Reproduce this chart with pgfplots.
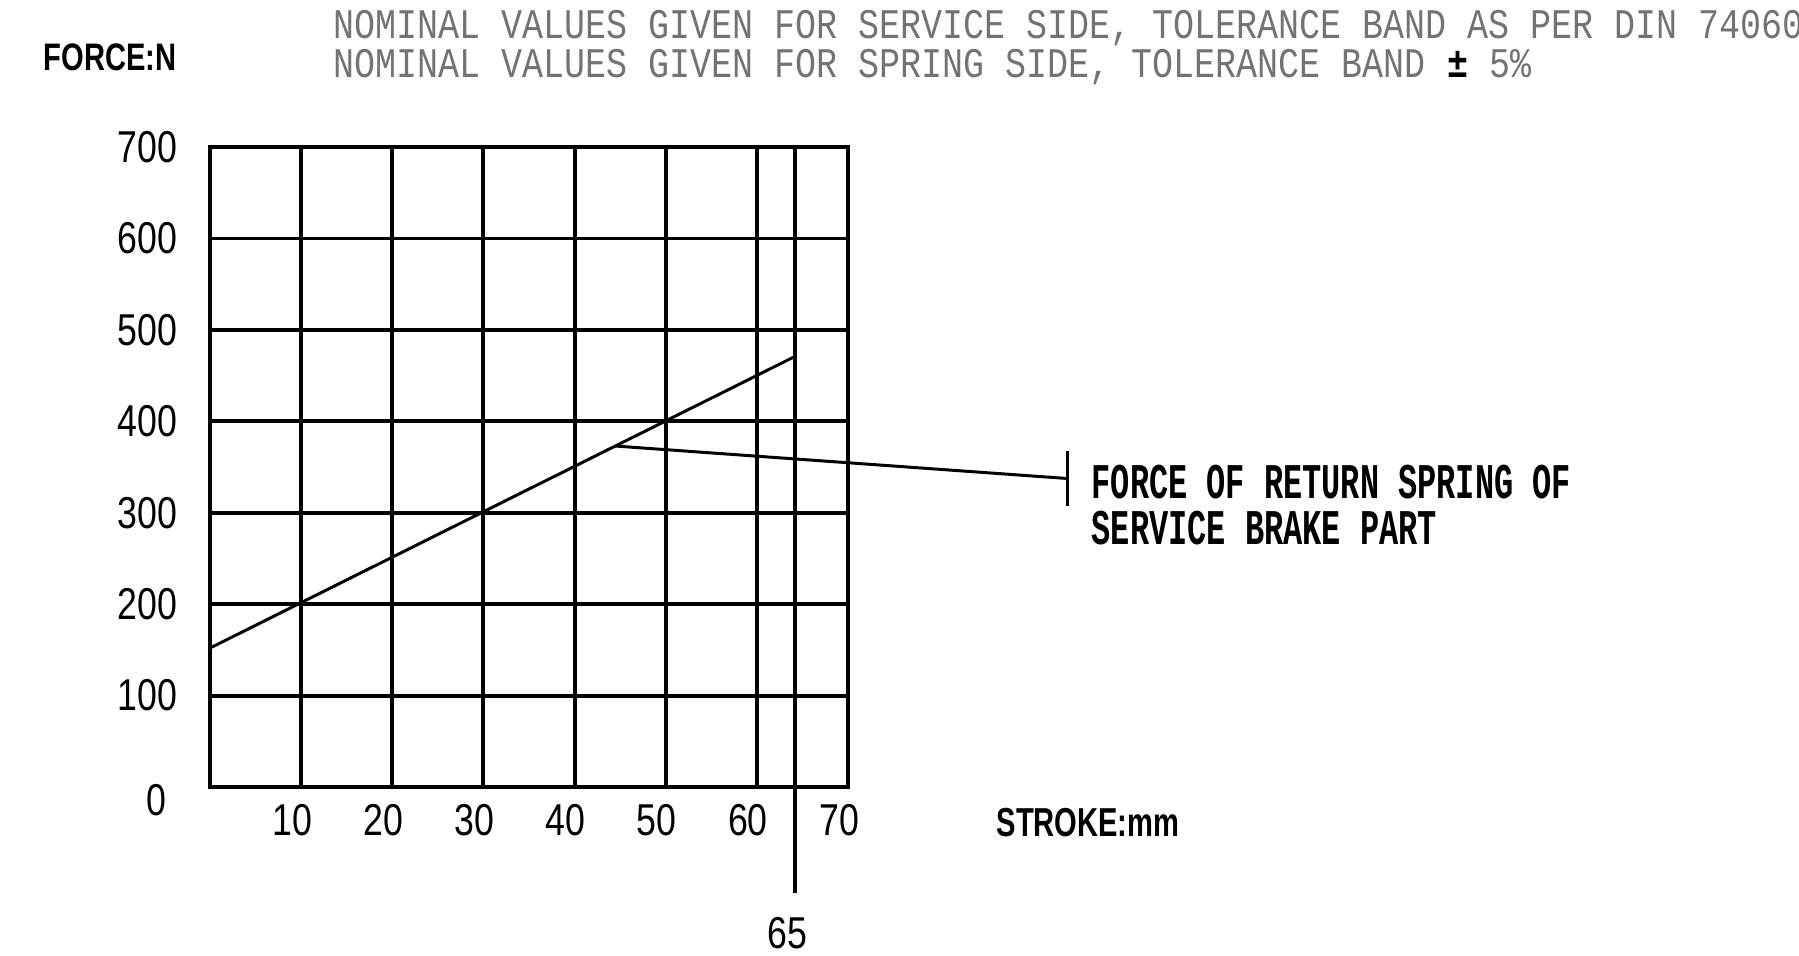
\documentclass[border=0pt]{standalone}
\usepackage{pgfplots}
\pgfplotsset{compat=1.18}
\usepackage{fontspec}
\setmainfont{Liberation Sans}
\newfontfamily\lblfont[FakeStretch=0.8]{Liberation Sans}
\newfontfamily\forcefont[FakeStretch=0.76]{Liberation Sans}
\newfontfamily\strokefont[FakeStretch=0.72]{Liberation Sans}
\newfontfamily\titlefont[FakeStretch=0.83]{Liberation Mono}
\newfontfamily\notefont[FakeStretch=0.64]{Liberation Mono}
\begin{document}
\begin{tikzpicture}[x=1mm,y=1mm]
\begin{axis}[
  at={(21mm,16.8mm)}, anchor=south west,
  scale only axis, width=63.8mm, height=64mm,
  xmin=0, xmax=70, ymin=0, ymax=700,
  xtick={10,20,...,70}, ytick={0,100,...,700},
  yticklabels={{\smash{\raisebox{-2.8mm}{0}}\kern1.1mm},100,200,300,400,500,600,700},
  grid=major,
  major grid style={black, line width=1.1pt},
  axis line style={black, line width=1.1pt},
  major tick length=0pt,
  clip=false,
  /pgf/number format/assume math mode=true,
  tick label style={font=\lblfont\fontsize{12.7}{14}\selectfont},
  yticklabel style={anchor=east, inner sep=0pt, xshift=-3.2mm},
  xticklabel style={anchor=north, inner sep=0pt, yshift=-1.7mm, xshift=-0.9mm},
]
\addplot[black, line width=0.85pt] coordinates {(0,152) (64,470)};
\addplot[black, line width=0.85pt] coordinates {(44.4,373) (94.1,337.4)};
\addplot[black, line width=0.85pt] coordinates {(94.1,367.5) (94.1,307.4)};
\addplot[black, line width=1.1pt] coordinates {(64.2,700) (64.2,-116)};
\end{axis}
\node[inner sep=0pt, font=\forcefont\bfseries\fontsize{10.9}{12}\selectfont] at (11.0,89.75) {FORCE:N};
\node[anchor=base west, inner sep=0pt, font=\titlefont\fontsize{12}{14}\selectfont, text=black!55] at (33.3,91.6) {NOMINAL VALUES GIVEN FOR SERVICE SIDE, TOLERANCE BAND AS PER DIN 74060};
\node[anchor=base west, inner sep=0pt, font=\titlefont\fontsize{12}{14}\selectfont, text=black!55] at (33.3,87.7) {NOMINAL VALUES GIVEN FOR SPRING SIDE, TOLERANCE BAND {\color{black}\bfseries ±} 5\%};
\node[anchor=base west, inner sep=0pt, font=\strokefont\bfseries\fontsize{11.5}{13}\selectfont] at (99.6,11.9) {STROKE:mm};
\node[anchor=base, inner sep=0pt, font=\lblfont\fontsize{12.7}{14}\selectfont] at (78.7,0.7) {65};
\node[anchor=base west, inner sep=0pt, font=\notefont\bfseries\fontsize{14.2}{16}\selectfont] at (109.1,45.7) {FORCE OF RETURN SPRING OF};
\node[anchor=base west, inner sep=0pt, font=\notefont\bfseries\fontsize{14.2}{16}\selectfont] at (109.1,41.1) {SERVICE BRAKE PART};
\pgfresetboundingbox
\path[use as bounding box] (0,0) rectangle (179.9,95.5);
\end{tikzpicture}
\end{document}
